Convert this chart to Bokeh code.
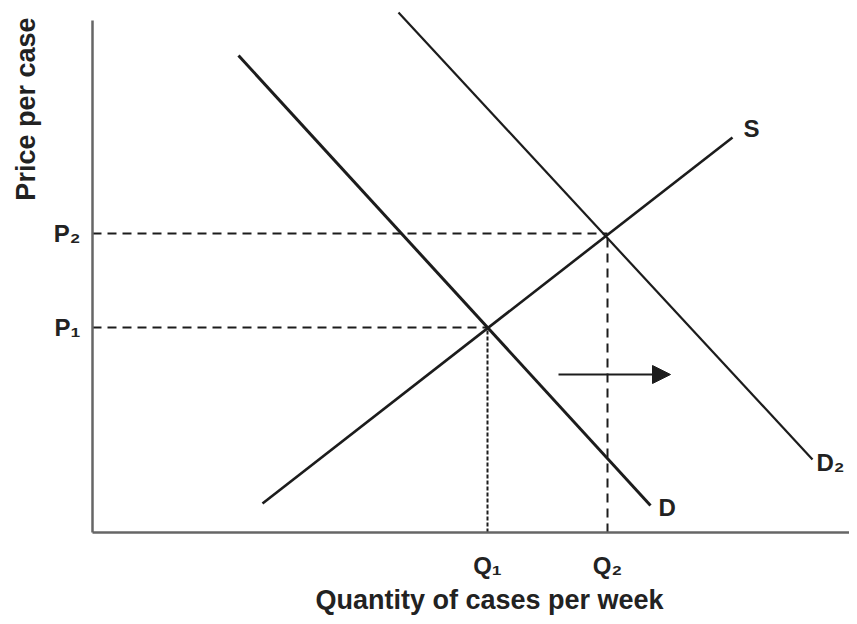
from bokeh.plotting import figure
from bokeh.models import (FixedTicker, Title, Arrow, NormalHead, ColumnDataSource, Range1d)
from bokeh.core.properties import value
from bokeh.embed import file_html
from bokeh.resources import INLINE

# ---- data (quantity / price units) ----
demand_q = [146, 558]
demand_p = [477, 27]
demand2_q = [306, 720]
demand2_p = [520, 73]
supply_q = [170, 640]
supply_p = [29, 395]
Q1, P1 = 395, 205
Q2, P2 = 515, 299
arrow_q = [466, 578]
arrow_p = [158, 158]
q_ticks = [Q1, Q2]
q_tick_labels = ["Q\u2081", "Q\u2082"]
p_ticks = [P1, P2]
p_tick_labels = ["P\u2081", "P\u2082"]
curve_names = ["D", "D\u2082", "S"]
curve_label_q = [566, 724, 651]
curve_label_p = [25, 70, 404]
x_title = "Quantity of cases per week"
y_title = "Price per case"

FONT = "Liberation Sans"
INK = "#1c1c1c"
TXT = "#222222"

p = figure(width=849, height=616, output_backend="svg", toolbar_location=None,
           x_range=Range1d(0, 757), y_range=Range1d(0, 524),
           min_border_left=92, min_border_right=0, min_border_top=8,
           min_border_bottom=84)
p.outline_line_color = None
p.grid.visible = False
p.background_fill_color = "white"
p.border_fill_color = "white"

for ax, ticks, labels in ((p.xaxis[0], q_ticks, q_tick_labels), (p.yaxis[0], p_ticks, p_tick_labels)):
    ax.ticker = FixedTicker(ticks=ticks, minor_ticks=[])
    ax.major_label_overrides = {t: l for t, l in zip(ticks, labels)}
    ax.major_tick_out = 0
    ax.major_tick_in = 0
    ax.minor_tick_out = 0
    ax.minor_tick_in = 0
    ax.axis_line_color = "#666666"
    ax.axis_line_width = 2.5
    ax.major_label_text_font = FONT
    ax.major_label_text_font_style = "bold"
    ax.major_label_text_font_size = "24px"
    ax.major_label_text_color = TXT
p.xaxis[0].bounds = (0, 757)
p.yaxis[0].bounds = (0, 512)
p.xaxis[0].major_label_standoff = 19
p.yaxis[0].major_label_standoff = 12

# dashed guide lines
p.line([0, Q1], [P1, P1], line_color=INK, line_width=2, line_dash="9 6")
p.line([0, Q2], [P2, P2], line_color=INK, line_width=2, line_dash="9 6")
p.line([Q1, Q1], [0, P1], line_color=INK, line_width=2, line_dash="4 2")
p.line([Q2, Q2], [0, P2], line_color=INK, line_width=2, line_dash="9 6")

# curves
p.line(demand_q, demand_p, line_color=INK, line_width=3)
p.line(demand2_q, demand2_p, line_color=INK, line_width=2.2)
p.line(supply_q, supply_p, line_color=INK, line_width=2.6)

# arrow showing the shift
p.add_layout(Arrow(end=NormalHead(size=18, fill_color=INK, line_color=INK),
                   x_start=arrow_q[0], y_start=arrow_p[0],
                   x_end=arrow_q[1], y_end=arrow_p[1],
                   line_color=INK, line_width=2))

# curve labels
src = ColumnDataSource(dict(x=curve_label_q, y=curve_label_p, t=curve_names))
p.text("x", "y", text="t", source=src, text_font=value(FONT), text_font_style="bold",
       text_font_size="24px", text_color=TXT, text_align="left",
       text_baseline="middle")

# axis titles
p.add_layout(Title(text=x_title, align="left", offset=223, standoff=2, text_font=FONT,
                   text_font_style="bold", text_font_size="27px", text_color=TXT), "below")
p.add_layout(Title(text=y_title, align="right", offset=9, standoff=16, vertical_align="top",
                   text_font=FONT, text_font_style="bold", text_font_size="27px",
                   text_color=TXT), "left")

open("out.html", "w").write(file_html(p, INLINE))
